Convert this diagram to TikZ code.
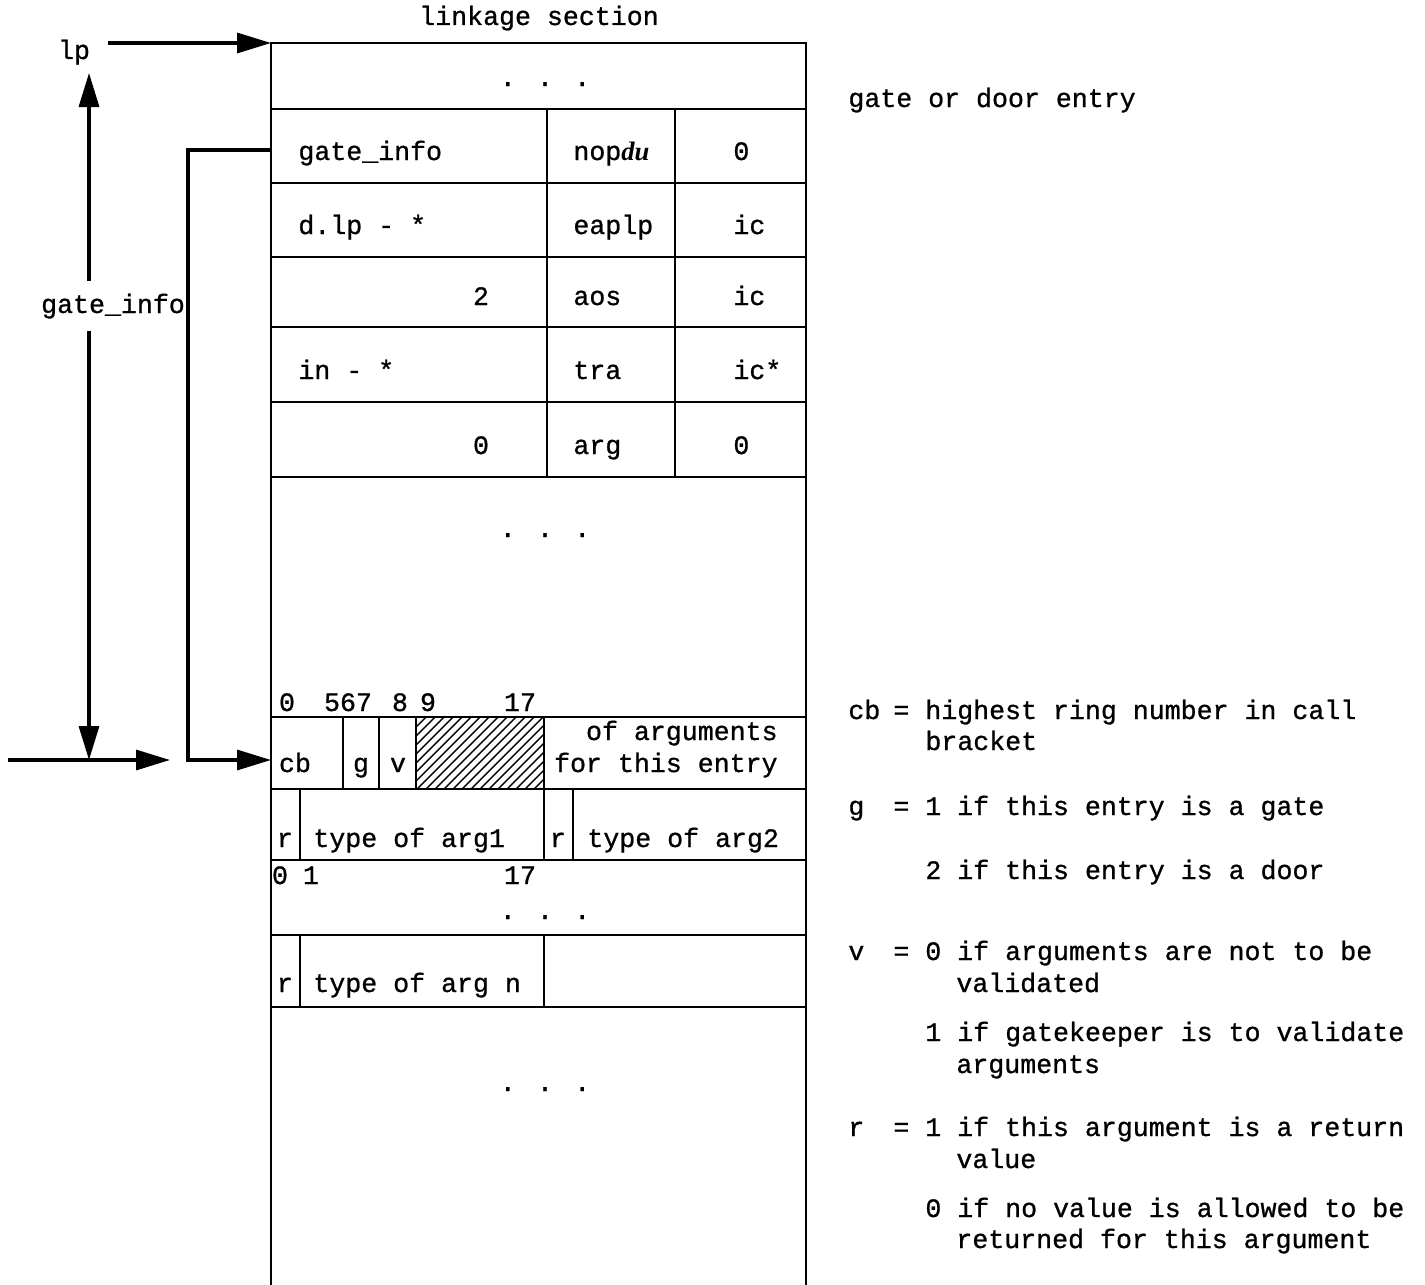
\documentclass[tikz,border=0pt]{standalone}
\usepackage{fontspec}
\setmainfont{Liberation Mono}[BoldFont={Liberation Mono},BoldFeatures={FakeBold=0.9}]
\newfontfamily\handfont{Liberation Serif}
\usepackage{tikz}
\usetikzlibrary{arrows.meta,calc,positioning}
\newcommand{\typefont}{\fontsize{13.3pt}{16pt}\selectfont\bfseries}
\tikzset{
  >={Triangle[length=17pt,width=10pt]},
  rule/.style={line width=1.4pt},
  flow/.style={->,line width=1.6pt},
  hatch/.style={line width=0.7pt},
  txt/.style={inner sep=0pt,font=\typefont,text height=7pt,text depth=0pt},
  lbl/.style={txt,anchor=west},
  mid/.style={txt,anchor=center},
  dots/.style={inner sep=0pt,font=\typefont,anchor=base}
}

\begin{document}
\begin{tikzpicture}[x=0.5pt,y=-0.5pt]
  \useasboundingbox (0,0) rectangle (1425,1285);
  % linkage section frame
  \node[mid] (title) at (539,18) {linkage section};
  \coordinate (lktop) at (271,43);
  \draw[rule] (271,1285) -- (lktop) -- (806,43) -- (806,1285);
  \foreach \y in {109,183,257,327,402,477,717,789,860,935,1007}
    \draw[rule] (271,\y) -- (806,\y);
  \draw[rule] (547,109) -- (547,477) (675,109) -- (675,477);
  \foreach \x in {343,379,416,544} \draw[rule] (\x,717) -- (\x,789);
  \foreach \x in {300,544,573} \draw[rule] (\x,789) -- (\x,860);
  \foreach \x in {300,544} \draw[rule] (\x,935) -- (\x,1007);
  % unused bits 9-17
  \begin{scope}
    \clip (416,717) rectangle (544,789);
    \foreach \x in {336,345,...,544} \draw[hatch] (\x,789) -- ++(80,-80);
  \end{scope}

  % gate or door entry words
  \node[dots] (dtop) at (545,86) {. . .};
  \node[lbl] (ginfo) at (298,153) {gate\_info};
  \node[lbl] (nop) at (573,153) {nop{\handfont\itshape\bfseries du}};
  \node[lbl] (wz) at (733,153) {0};
  \node[lbl] (dlp) at (298,227) {d.lp - *};
  \node[lbl] (eap) at (573,227) {eaplp};
  \node[lbl] (ica) at (733,227) {ic};
  \node[mid] (two) at (481,298) {2};
  \node[lbl] (aos) at (573,298) {aos};
  \node[lbl] (icb) at (733,298) {ic};
  \node[lbl] (inst) at (298,372) {in - *};
  \node[lbl] (tra) at (573,372) {tra};
  \node[lbl] (icc) at (733,372) {ic*};
  \node[mid] (zero) at (481,447) {0};
  \node[lbl] (arg) at (573,447) {arg};
  \node[lbl] (wzb) at (733,447) {0};
  \node[dots] (dmid) at (545,537) {. . .};

  % argument descriptor
  \foreach \x/\b in {287/0,348/567,400/8,428/9,520/17}
    \node[mid] (bit\b) at (\x,704) {\b};
  \node[mid] (cb) at (295,765) {cb};
  \node[mid] (gbit) at (361,765) {g};
  \node[mid] (vbit) at (398,765) {v};
  \node[txt,anchor=east] (nargs) at (778,733) {of arguments};
  \node[txt,anchor=east] (nargsb) at (778,765) {for this entry};
  \node[mid] (ra) at (285,840) {r};
  \node[lbl] (ta) at (313,840) {type of arg1};
  \node[mid] (rb) at (558,840) {r};
  \node[lbl] (tb) at (587,840) {type of arg2};
  \foreach \x/\b in {280/0,311/1,520/17}
    \node[mid] (abit\b) at (\x,877) {\b};
  \node[dots] (dlow) at (545,919) {. . .};
  \node[mid] (rn) at (285,985) {r};
  \node[lbl] (tn) at (313,985) {type of arg n};
  \node[dots] (dend) at (545,1091) {. . .};

  % pointers
  \node[mid] (lp) at (74,52) {lp};
  \coordinate (lpout) at (108,43);
  \draw[flow] (lpout) -- (lktop);
  \node[mid,inner ysep=9pt] (gioff) at (113,306) {gate\_info};
  \coordinate (uptip) at (89,73);
  \coordinate (dntip) at (89,760);
  \draw[flow] (gioff.north -| uptip) -- (uptip);
  \draw[flow] (gioff.south -| dntip) -- (dntip);
  \coordinate (entl) at (8,760);
  \coordinate (entr) at (170,760);
  \draw[flow] (entl) -- (entr);
  \coordinate (gcell) at (271,150);
  \coordinate (cbcell) at (271,760);
  \draw[flow] (gcell) -- ++(-83,0) |- (cbcell);

  % legend
  \node[lbl] (gde) at (848,100) {gate or door entry};
  \foreach \nm/\k/\y in {kcb/cb/712,kg/g/808,kv/v/953,kr/r/1129}
    \node[lbl] (\nm) at (848,\y) {\k};
  \node[lbl] (dcb) at (893,712) {= highest ring number in call};
  \node[lbl] (dcbb) at (925,743) {bracket};
  \node[lbl] (dga) at (893,808) {= 1 if this entry is a gate};
  \node[lbl] (dgb) at (925,872) {2 if this entry is a door};
  \node[lbl] (dva) at (893,953) {= 0 if arguments are not to be};
  \node[lbl] (dvab) at (956,985) {validated};
  \node[lbl] (dvb) at (925,1034) {1 if gatekeeper is to validate};
  \node[lbl] (dvbb) at (956,1066) {arguments};
  \node[lbl] (dra) at (893,1129) {= 1 if this argument is a return};
  \node[lbl] (drab) at (956,1161) {value};
  \node[lbl] (drb) at (925,1210) {0 if no value is allowed to be};
  \node[lbl] (drbb) at (956,1241) {returned for this argument};
\end{tikzpicture}
\end{document}
